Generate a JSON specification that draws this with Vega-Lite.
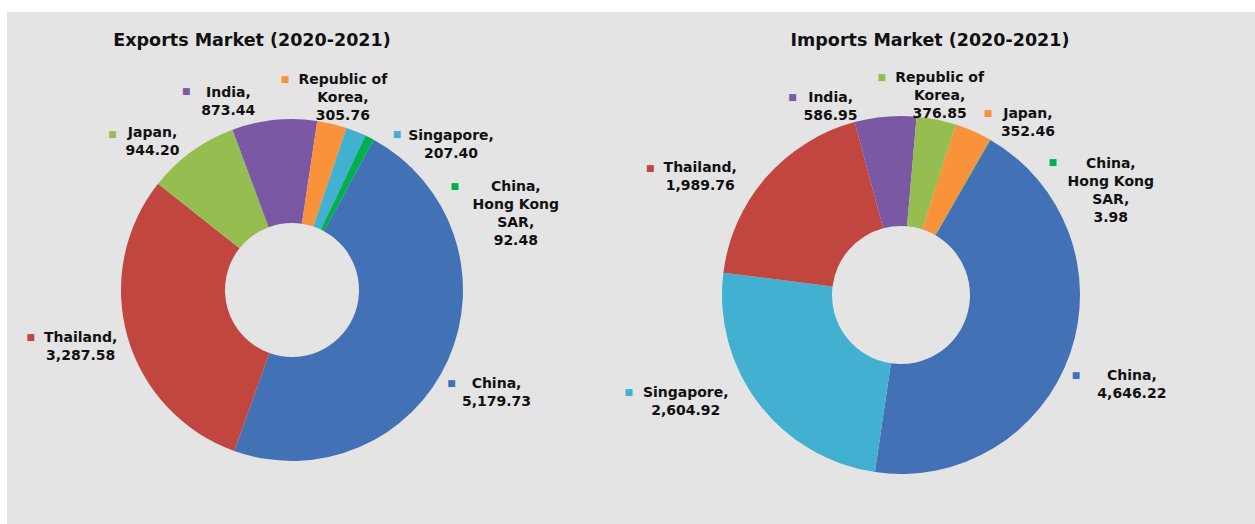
{
  "$schema": "https://vega.github.io/schema/vega-lite/v6.json",
  "width": 1248,
  "height": 512,
  "autosize": {"type": "none"},
  "padding": {"left": 7, "top": 12, "right": 0, "bottom": 0},
  "background": "#ffffff",
  "config": {
    "view": {"fill": "#e4e4e4", "stroke": null},
    "text": {"font": "DejaVu Sans", "fontWeight": "bold", "fontSize": 14, "lineHeight": 18, "lineBreak": "\n", "align": "center", "baseline": "top"}
  },
  "datasets": {
    "trade": [
      {"market": "Exports", "country": "China", "value": 5179.73, "label": "China,\n5,179.73"},
      {"market": "Exports", "country": "Thailand", "value": 3287.58, "label": "Thailand,\n3,287.58"},
      {"market": "Exports", "country": "Japan", "value": 944.20, "label": "Japan,\n944.20"},
      {"market": "Exports", "country": "India", "value": 873.44, "label": "India,\n873.44"},
      {"market": "Exports", "country": "Republic of Korea", "value": 305.76, "label": "Republic of\nKorea,\n305.76"},
      {"market": "Exports", "country": "Singapore", "value": 207.40, "label": "Singapore,\n207.40"},
      {"market": "Exports", "country": "China, Hong Kong SAR", "value": 92.48, "label": "China,\nHong Kong\nSAR,\n92.48"},
      {"market": "Imports", "country": "China", "value": 4646.22, "label": "China,\n4,646.22"},
      {"market": "Imports", "country": "Singapore", "value": 2604.92, "label": "Singapore,\n2,604.92"},
      {"market": "Imports", "country": "Thailand", "value": 1989.76, "label": "Thailand,\n1,989.76"},
      {"market": "Imports", "country": "India", "value": 586.95, "label": "India,\n586.95"},
      {"market": "Imports", "country": "Republic of Korea", "value": 376.85, "label": "Republic of\nKorea,\n376.85"},
      {"market": "Imports", "country": "Japan", "value": 352.46, "label": "Japan,\n352.46"},
      {"market": "Imports", "country": "China, Hong Kong SAR", "value": 3.98, "label": "China,\nHong Kong\nSAR,\n3.98"}
    ],
    "titles": [
      {"market": "Exports", "title": "Exports Market (2020-2021)"},
      {"market": "Imports", "title": "Imports Market (2020-2021)"}
    ]
  },
  "layer": [
    {
      "data": {"name": "trade"},
      "transform": [{"filter": "datum.market === 'Exports'"}],
      "encoding": {
        "x": {"field": "market", "type": "nominal", "axis": null, "scale": {"type": "point", "domain": ["Exports", "Imports"], "range": [285, 894], "padding": 0}},
        "y": {"field": "market", "type": "nominal", "axis": null, "scale": {"type": "point", "domain": ["Exports", "Imports"], "range": [278, 283], "padding": 0}},
        "theta": {"field": "value", "type": "quantitative", "stack": true, "scale": {"range": [0.4978, 6.7810]}},
        "order": {"field": "value", "type": "quantitative", "sort": "descending"},
        "detail": {"field": "country", "type": "nominal"},
        "color": {"field": "country", "type": "nominal", "legend": null, "scale": {"domain": ["China", "Thailand", "Japan", "India", "Republic of Korea", "Singapore", "China, Hong Kong SAR"], "range": ["#4272b5", "#c1463f", "#96bd4f", "#7b58a4", "#f8933c", "#42b0d0", "#00b050"]}}
      },
      "layer": [
        {"mark": {"type": "arc", "innerRadius": 67, "outerRadius": 171}},
        {"mark": {"type": "text", "radius": 200, "dx": -43, "dy": -5}, "encoding": {"color": {"value": "#111111"}, "text": {"condition": {"test": "datum.country === 'India'", "field": "label"}, "value": ""}}},
        {"mark": {"type": "text", "radius": 200, "dx": 4, "dy": -23}, "encoding": {"color": {"value": "#111111"}, "text": {"condition": {"test": "datum.country === 'Republic of Korea'", "field": "label"}, "value": ""}}},
        {"mark": {"type": "text", "radius": 200, "dx": -22, "dy": -2}, "encoding": {"color": {"value": "#111111"}, "text": {"condition": {"test": "datum.country === 'Japan'", "field": "label"}, "value": ""}}},
        {"mark": {"type": "text", "radius": 200, "dx": 84, "dy": 24}, "encoding": {"color": {"value": "#111111"}, "text": {"condition": {"test": "datum.country === 'Singapore'", "field": "label"}, "value": ""}}},
        {"mark": {"type": "text", "radius": 200, "dx": 133, "dy": 68}, "encoding": {"color": {"value": "#111111"}, "text": {"condition": {"test": "datum.country === 'China, Hong Kong SAR'", "field": "label"}, "value": ""}}},
        {"mark": {"type": "text", "radius": 200, "dx": 22, "dy": 5}, "encoding": {"color": {"value": "#111111"}, "text": {"condition": {"test": "datum.country === 'China'", "field": "label"}, "value": ""}}},
        {"mark": {"type": "text", "radius": 200, "dx": -19, "dy": -14}, "encoding": {"color": {"value": "#111111"}, "text": {"condition": {"test": "datum.country === 'Thailand'", "field": "label"}, "value": ""}}},
        {"mark": {"type": "text", "radius": 200, "dx": -85, "dy": 0, "fontSize": 9, "baseline": "middle"}, "encoding": {"text": {"condition": {"test": "datum.country === 'India'", "value": "■"}, "value": ""}}},
        {"mark": {"type": "text", "radius": 200, "dx": -54, "dy": -17, "fontSize": 9, "baseline": "middle"}, "encoding": {"text": {"condition": {"test": "datum.country === 'Republic of Korea'", "value": "■"}, "value": ""}}},
        {"mark": {"type": "text", "radius": 200, "dx": -62, "dy": 6, "fontSize": 9, "baseline": "middle"}, "encoding": {"text": {"condition": {"test": "datum.country === 'Japan'", "value": "■"}, "value": ""}}},
        {"mark": {"type": "text", "radius": 200, "dx": 30, "dy": 29, "fontSize": 9, "baseline": "middle"}, "encoding": {"text": {"condition": {"test": "datum.country === 'Singapore'", "value": "■"}, "value": ""}}},
        {"mark": {"type": "text", "radius": 200, "dx": 72, "dy": 74, "fontSize": 9, "baseline": "middle"}, "encoding": {"text": {"condition": {"test": "datum.country === 'China, Hong Kong SAR'", "value": "■"}, "value": ""}}},
        {"mark": {"type": "text", "radius": 200, "dx": -23, "dy": 11, "fontSize": 9, "baseline": "middle"}, "encoding": {"text": {"condition": {"test": "datum.country === 'China'", "value": "■"}, "value": ""}}},
        {"mark": {"type": "text", "radius": 200, "dx": -69, "dy": -8, "fontSize": 9, "baseline": "middle"}, "encoding": {"text": {"condition": {"test": "datum.country === 'Thailand'", "value": "■"}, "value": ""}}}
      ]
    },
    {
      "data": {"name": "trade"},
      "transform": [{"filter": "datum.market === 'Imports'"}],
      "encoding": {
        "x": {"field": "market", "type": "nominal", "axis": null, "scale": {"type": "point", "domain": ["Exports", "Imports"], "range": [285, 894], "padding": 0}},
        "y": {"field": "market", "type": "nominal", "axis": null, "scale": {"type": "point", "domain": ["Exports", "Imports"], "range": [278, 283], "padding": 0}},
        "theta": {"field": "value", "type": "quantitative", "stack": true, "scale": {"range": [0.5236, 6.8068]}},
        "order": {"field": "value", "type": "quantitative", "sort": "descending"},
        "detail": {"field": "country", "type": "nominal"},
        "color": {"field": "country", "type": "nominal", "legend": null, "scale": {"domain": ["China", "Thailand", "Japan", "India", "Republic of Korea", "Singapore", "China, Hong Kong SAR"], "range": ["#4272b5", "#c1463f", "#f8933c", "#7b58a4", "#96bd4f", "#42b0d0", "#00b050"]}}
      },
      "layer": [
        {"mark": {"type": "arc", "innerRadius": 69, "outerRadius": 179}},
        {"mark": {"type": "text", "radius": 200, "dx": -53, "dy": -5}, "encoding": {"color": {"value": "#111111"}, "text": {"condition": {"test": "datum.country === 'India'", "field": "label"}, "value": ""}}},
        {"mark": {"type": "text", "radius": 200, "dx": -1, "dy": -28}, "encoding": {"color": {"value": "#111111"}, "text": {"condition": {"test": "datum.country === 'Republic of Korea'", "field": "label"}, "value": ""}}},
        {"mark": {"type": "text", "radius": 200, "dx": 46, "dy": -5}, "encoding": {"color": {"value": "#111111"}, "text": {"condition": {"test": "datum.country === 'Japan'", "field": "label"}, "value": ""}}},
        {"mark": {"type": "text", "radius": 200, "dx": 110, "dy": 35}, "encoding": {"color": {"value": "#111111"}, "text": {"condition": {"test": "datum.country === 'China, Hong Kong SAR'", "field": "label"}, "value": ""}}},
        {"mark": {"type": "text", "radius": 200, "dx": 42, "dy": 8}, "encoding": {"color": {"value": "#111111"}, "text": {"condition": {"test": "datum.country === 'China'", "field": "label"}, "value": ""}}},
        {"mark": {"type": "text", "radius": 200, "dx": -56, "dy": -30}, "encoding": {"color": {"value": "#111111"}, "text": {"condition": {"test": "datum.country === 'Singapore'", "field": "label"}, "value": ""}}},
        {"mark": {"type": "text", "radius": 200, "dx": -50, "dy": -3}, "encoding": {"color": {"value": "#111111"}, "text": {"condition": {"test": "datum.country === 'Thailand'", "field": "label"}, "value": ""}}},
        {"mark": {"type": "text", "radius": 200, "dx": -91, "dy": 1, "fontSize": 9, "baseline": "middle"}, "encoding": {"text": {"condition": {"test": "datum.country === 'India'", "value": "■"}, "value": ""}}},
        {"mark": {"type": "text", "radius": 200, "dx": -59, "dy": -22, "fontSize": 9, "baseline": "middle"}, "encoding": {"text": {"condition": {"test": "datum.country === 'Republic of Korea'", "value": "■"}, "value": ""}}},
        {"mark": {"type": "text", "radius": 200, "dx": 6, "dy": 1, "fontSize": 9, "baseline": "middle"}, "encoding": {"text": {"condition": {"test": "datum.country === 'Japan'", "value": "■"}, "value": ""}}},
        {"mark": {"type": "text", "radius": 200, "dx": 52, "dy": 40, "fontSize": 9, "baseline": "middle"}, "encoding": {"text": {"condition": {"test": "datum.country === 'China, Hong Kong SAR'", "value": "■"}, "value": ""}}},
        {"mark": {"type": "text", "radius": 200, "dx": -14, "dy": 14, "fontSize": 9, "baseline": "middle"}, "encoding": {"text": {"condition": {"test": "datum.country === 'China'", "value": "■"}, "value": ""}}},
        {"mark": {"type": "text", "radius": 200, "dx": -113, "dy": -24, "fontSize": 9, "baseline": "middle"}, "encoding": {"text": {"condition": {"test": "datum.country === 'Singapore'", "value": "■"}, "value": ""}}},
        {"mark": {"type": "text", "radius": 200, "dx": -100, "dy": 4, "fontSize": 9, "baseline": "middle"}, "encoding": {"text": {"condition": {"test": "datum.country === 'Thailand'", "value": "■"}, "value": ""}}}
      ]
    },
    {
      "data": {"name": "titles"},
      "transform": [{"filter": "datum.market === 'Exports'"}],
      "mark": {"type": "text", "fontSize": 17.5, "baseline": "middle", "dx": -40, "dy": -249, "color": "#111111"},
      "encoding": {
        "x": {"field": "market", "type": "nominal", "axis": null, "scale": {"type": "point", "domain": ["Exports", "Imports"], "range": [285, 894], "padding": 0}},
        "y": {"field": "market", "type": "nominal", "axis": null, "scale": {"type": "point", "domain": ["Exports", "Imports"], "range": [278, 283], "padding": 0}},
        "text": {"field": "title"}
      }
    },
    {
      "data": {"name": "titles"},
      "transform": [{"filter": "datum.market === 'Imports'"}],
      "mark": {"type": "text", "fontSize": 17.5, "baseline": "middle", "dx": 29, "dy": -254, "color": "#111111"},
      "encoding": {
        "x": {"field": "market", "type": "nominal", "axis": null, "scale": {"type": "point", "domain": ["Exports", "Imports"], "range": [285, 894], "padding": 0}},
        "y": {"field": "market", "type": "nominal", "axis": null, "scale": {"type": "point", "domain": ["Exports", "Imports"], "range": [278, 283], "padding": 0}},
        "text": {"field": "title"}
      }
    }
  ],
  "resolve": {"scale": {"theta": "independent", "color": "independent"}}
}
